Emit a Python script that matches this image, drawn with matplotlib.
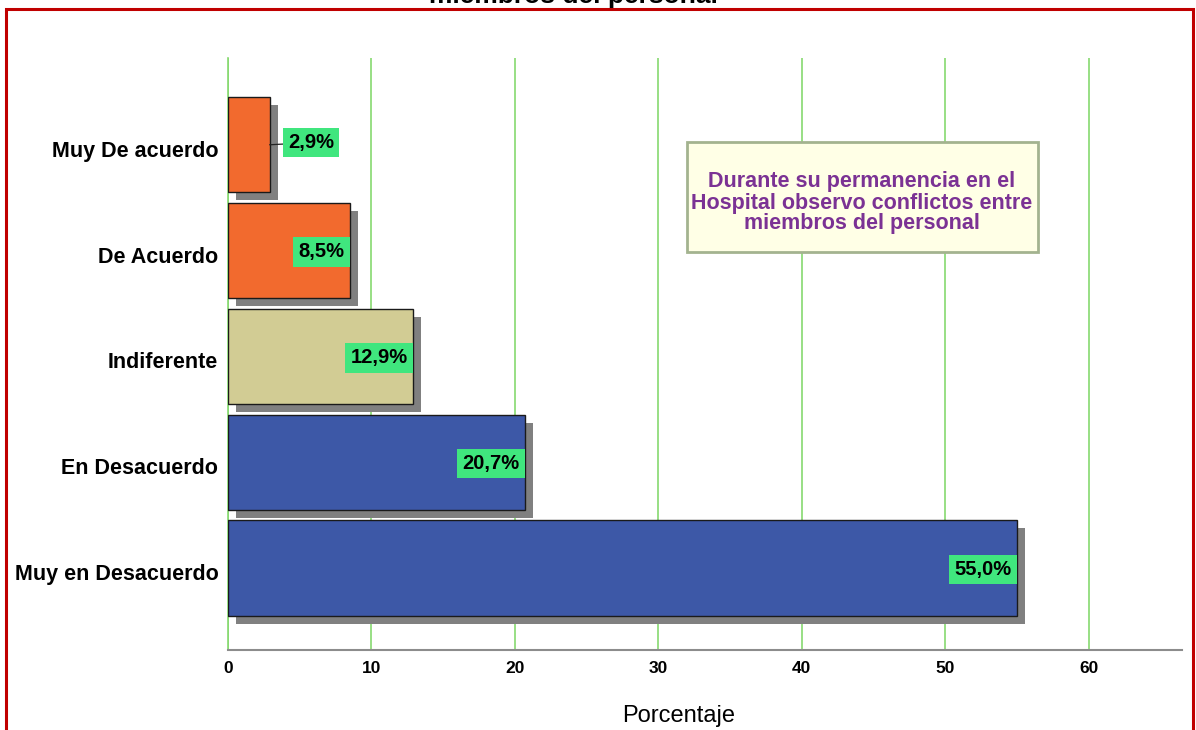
import matplotlib
matplotlib.use("Agg")
import matplotlib.pyplot as plt
import matplotlib.patheffects as pe
import matplotlib.transforms as mtransforms
from matplotlib.patches import Rectangle

plt.rcParams['font.family'] = ['Liberation Sans', 'DejaVu Sans']

# Respuestas (de abajo hacia arriba) y porcentajes
categorias = ["Muy en Desacuerdo", "En Desacuerdo", "Indiferente", "De Acuerdo", "Muy De acuerdo"]
porcentajes = [55.0, 20.7, 12.9, 8.5, 2.9]
etiquetas = ["55,0%", "20,7%", "12,9%", "8,5%", "2,9%"]
colores = ["#3D58A7", "#3D58A7", "#D2CC94", "#F26A2E", "#F26A2E"]
ticks_x = [0, 10, 20, 30, 40, 50, 60]
titulo = "Durante su permanencia en el\nHospital observo conflictos entre\nmiembros del personal"

fig = plt.figure(figsize=(11.96, 7.30), dpi=100)
W, H = 1196, 730

def fx(px):
    return px / W

def fy(py):
    return 1 - py / H

ax = fig.add_axes([fx(228), fy(650), fx(1182) - fx(228), fy(58) - fy(650)])

y = list(range(len(categorias)))
sombra = [pe.SimplePatchShadow(offset=(5.8, -5.8), shadow_rgbFace="#808080", alpha=1.0), pe.Normal()]
barras = ax.barh(y, porcentajes, height=0.9, color=colores, edgecolor="#1a1a1a", linewidth=1.0, zorder=3)
for b in barras:
    b.set_path_effects(sombra)

ax.set_xlim(0, 66.5)
ax.set_ylim(-0.775, 4.82)
ax.set_xticks(ticks_x)
ax.set_xticklabels([str(t) for t in ticks_x], fontsize=12.5, fontweight="bold")
ax.set_yticks(y)
ax.set_yticklabels(categorias, fontsize=15.5, fontweight="bold")
ax.tick_params(axis="x", length=0, pad=8)
ax.tick_params(axis="y", length=0, pad=7)
baja = mtransforms.ScaledTranslation(0, -4 / 100, fig.dpi_scale_trans)
for lab in ax.get_yticklabels():
    lab.set_transform(lab.get_transform() + baja)
ax.xaxis.grid(True, color="#86D970", linewidth=1.2, zorder=0)
ax.set_axisbelow(True)
for s in ["top", "right"]:
    ax.spines[s].set_visible(False)
ax.spines["left"].set_color("#86D970")
ax.spines["left"].set_linewidth(1.2)
ax.spines["bottom"].set_color("#8c8c8c")
ax.spines["bottom"].set_linewidth(1.5)

fig.text(fx(679), fy(716), "Porcentaje", ha="center", va="center", fontsize=17)

# Etiquetas de valor
caja = dict(boxstyle="square,pad=0.26", facecolor="#40E67E", edgecolor="none")
for yi, v, t in zip(y, porcentajes, etiquetas):
    if v < 5:
        ax.annotate(t, xy=(v, yi), xytext=(v + 1.3, yi + 0.02), textcoords="data",
                    ha="left", va="center", fontsize=14.5, fontweight="bold", bbox=caja, zorder=5,
                    arrowprops=dict(arrowstyle="-", color="#222222", lw=0.9, shrinkA=0, shrinkB=0))
    else:
        ax.annotate(t, xy=(v, yi), xytext=(-4, -1), textcoords="offset points",
                    ha="right", va="center", fontsize=14.5, fontweight="bold", bbox=caja, zorder=5)

# Cuadro de título dentro del gráfico
fig.patches.append(Rectangle((fx(687), fy(252)), fx(1038) - fx(687), fy(142) - fy(252),
                             transform=fig.transFigure, facecolor="#FFFFE6", edgecolor="#A3B38F",
                             linewidth=2, zorder=4))
fig.text(fx(862), fy(203), titulo, ha="center", va="center", fontsize=15.5, fontweight="bold",
         color="#7B3294", linespacing=1.0, zorder=5)

# Título superior recortado
fig.text(fx(573), fy(3), "miembros del personal", ha="center", va="baseline", fontsize=19, fontweight="bold")

# Marco rojo
fig.patches.append(Rectangle((fx(6), -0.05), fx(1193) - fx(6), fy(9) + 0.05,
                             transform=fig.transFigure, fill=False, edgecolor="#C00000", linewidth=2.2))

fig.savefig("out.png", dpi=100)
